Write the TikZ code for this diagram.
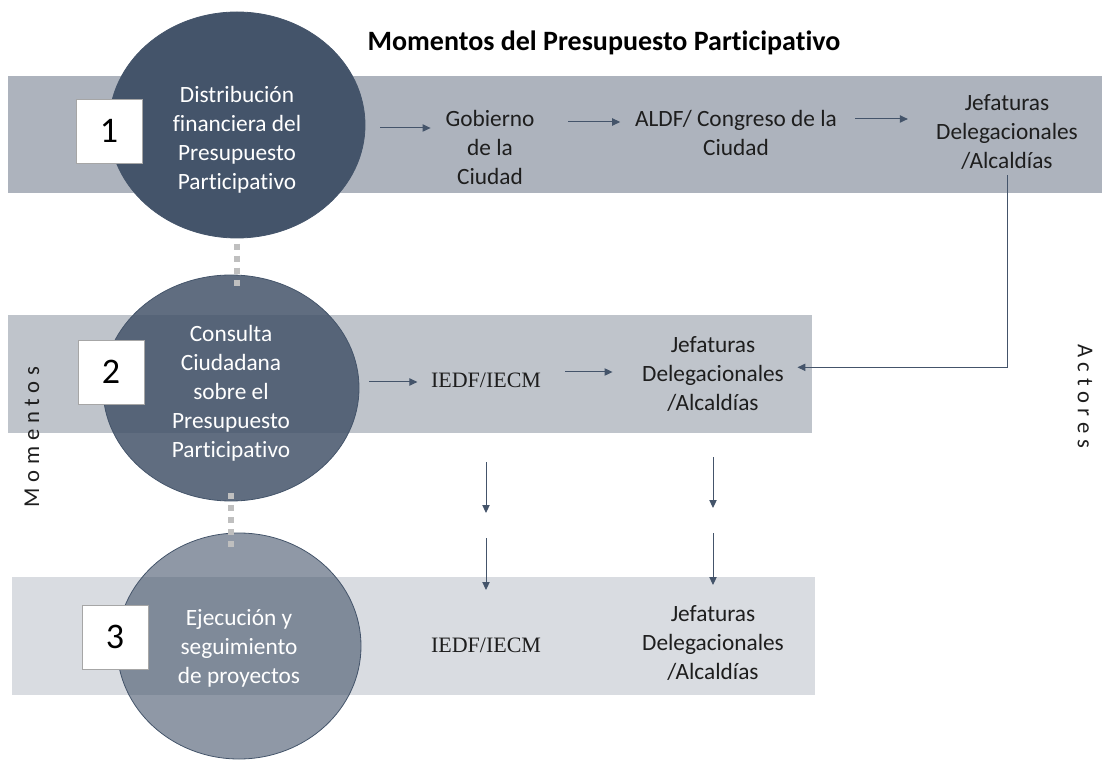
\documentclass[tikz,border=0pt]{standalone}
\usepackage{fontspec}
\setmainfont{Carlito}[Ligatures=NoCommon]
\newfontfamily\timesfont{Liberation Serif}
\newfontfamily\spacedfont[LetterSpace=25, Ligatures=NoCommon]{Carlito}
\usepackage{tikz}
\usetikzlibrary{arrows.meta, shapes.geometric, positioning}
\definecolor{pizarra}{HTML}{44546A}
\definecolor{banda1}{HTML}{ADB3BD}
\definecolor{banda2}{HTML}{BFC4CB}
\definecolor{banda3}{HTML}{D9DCE1}
\definecolor{punteo}{HTML}{BFBFBF}
\definecolor{tinta}{HTML}{1E1E1E}
\tikzset{momento/.style={ellipse, draw=pizarra, line width=0.6pt, fill=pizarra, inner sep=0pt, minimum width=192pt, minimum height=169.5pt}}
\tikzset{numero/.style={draw=gray!70, line width=0.6pt, fill=white, minimum width=49.5pt, minimum height=48pt, font=\fontsize{27}{30}\selectfont}}
\tikzset{circtexto/.style={text=white, align=center, inner sep=0pt, font=\fontsize{17.5}{21.75}\selectfont}}
\tikzset{actor/.style={text=tinta, align=center, inner sep=0pt, font=\fontsize{17.5}{21.75}\selectfont}}
\tikzset{actortimes/.style={text=tinta, align=center, inner sep=0pt, font=\timesfont\fontsize{16.5}{20}\selectfont}}
\tikzset{eje/.style={text=tinta, font=\spacedfont\fontsize{17}{20}\selectfont}}
\tikzset{flecha/.style={draw=pizarra, line width=0.75pt, -{Triangle[length=6pt, width=5.5pt]}}}
\tikzset{punteado/.style={draw=punteo, line width=4.5pt, dash pattern=on 4.5pt off 4.5pt}}

\begin{document}
\begin{tikzpicture}[x=0.75pt, y=-0.75pt]
            \useasboundingbox (0,0) rectangle (1102,762);
            % bandas
            \fill[banda1] (8,76) rectangle (1102,193);
            \fill[banda2] (8,315) rectangle (812,433);
            \fill[banda3] (12,577) rectangle (815,695);
            % momentos
            \node[momento] (c1) at (237,125) {};
            \node[momento, fill opacity=0.85] (c2) at (231,388) {};
            \node[momento, fill opacity=0.6, minimum width=183pt] (c3) at (239,646) {};
            \draw[punteado] ([yshift=-4pt]c1.south) -- ([yshift=-9pt]c1.south |- c2.north);
            \draw[punteado] ([yshift=6pt]c2.south) -- ([yshift=-12pt]c2.south |- c3.north);
            \node[numero] (n1) at (109,131) {1};
            \node[numero] (n2) at (111,372) {2};
            \node[numero] (n3) at (115,637) {3};
            \node[circtexto] (t1) at (237,140) {Distribución\\financiera del\\Presupuesto\\Participativo};
            \node[circtexto] (t2) at (231,393) {Consulta\\Ciudadana\\sobre el\\Presupuesto\\Participativo};
            \node[circtexto] (t3) at (239,648) {Ejecución y\\seguimiento\\de proyectos};
            % actores
            \node[font=\bfseries\fontsize{21}{25}\selectfont] (titulo) at (604,43) {Momentos del Presupuesto Participativo};
            \node[actor] (gob) at (490,147) {Gobierno\\de la\\Ciudad};
            \node[actor] (aldf) at (736,133) {ALDF/ Congreso de la\\Ciudad};
            \node[actor] (jef1) at (1007,132) {Jefaturas\\Delegacionales\\/Alcaldías};
            \node[actortimes] (iedf1) at (486,380) {IEDF/IECM};
            \node[actor] (jef2) at (713,374) {Jefaturas\\Delegacionales\\/Alcaldías};
            \node[actortimes] (iedf2) at (486,645) {IEDF/IECM};
            \node[actor] (jef3) at (713,643) {Jefaturas\\Delegacionales\\/Alcaldías};
            \node[eje, rotate=90] (momentos) at (32,437) {Momentos};
            \node[eje, rotate=-90] (actores) at (1085,396) {Actores};
            % flechas
            \draw[flecha, shorten <=11pt, shorten >=11pt] (c1.east |- 0,128) -- (gob.west |- 0,128);
            \draw[flecha, shorten <=25pt, shorten >=11pt] (gob.east |- 0,122) -- (aldf.west |- 0,122);
            \draw[flecha, shorten <=13.5pt, shorten >=21pt] (aldf.east |- 0,119) -- (jef1.west |- 0,119);
            \draw[flecha, shorten <=7.5pt, shorten >=10pt] (c2.east |- 0,382) -- (iedf1.west |- 0,382);
            \draw[flecha, shorten <=18pt, shorten >=22pt] (iedf1.east |- 0,372) -- (jef2.west |- 0,372);
            \draw[flecha, shorten <=4pt, shorten >=10pt] (jef1.south) |- ([yshift=5pt]jef2.east);
            \draw[flecha] (iedf1 |- 0,462) -- (iedf1 |- 0,513);
            \draw[flecha] (iedf2 |- 0,538) -- (iedf2 |- 0,590);
            \draw[flecha] (jef2 |- 0,457) -- (jef2 |- 0,508);
            \draw[flecha] (jef3 |- 0,533) -- (jef3 |- 0,585);
\end{tikzpicture}
\end{document}
